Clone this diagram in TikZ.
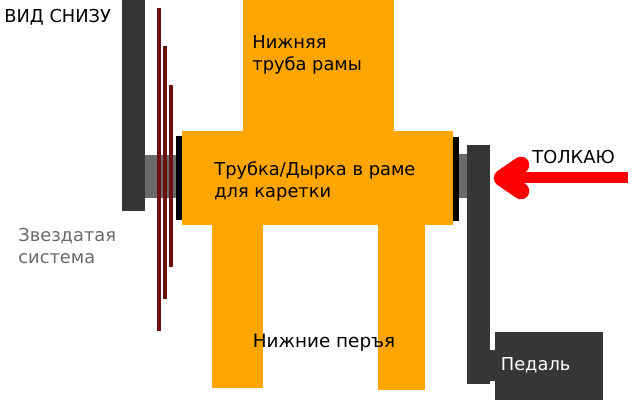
\documentclass[tikz,border=0pt]{standalone}
\usepackage{fontspec}
\setmainfont{DejaVu Sans}

\begin{document}
\begin{tikzpicture}[every node/.style={inner sep=0pt, anchor=west, font=\fontsize{10.15pt}{12.5pt}\selectfont, align=left},
    frame/.style={fill=orange1}, crank/.style={fill=dark1}, axle/.style={fill=label1}, washer/.style={fill=black}, chainring/.style={fill=red1}]
    \definecolor{orange1}{HTML}{FFA500}
    \definecolor{dark1}{HTML}{363636}
    \definecolor{red1}{HTML}{6B0F0F}
    \definecolor{label1}{HTML}{6A6A6A}

    \useasboundingbox (0,0) rectangle (12.8,8);

    % frame
    \fill[frame] (4.86,8) rectangle (7.88,5.38);
    \fill[frame] (3.64,5.38) rectangle (9.06,3.5);
    \fill[frame] (4.24,3.5) rectangle (5.26,0.24);
    \fill[frame] (7.56,3.5) rectangle (8.5,0.2);

    % axle
    \fill[axle] (2.9,4.9) rectangle (3.52,4.04);
    \fill[axle] (9.18,4.92) rectangle (9.34,4.04);
    \fill[washer] (3.52,5.28) rectangle (3.64,3.6);
    \fill[washer] (9.06,5.26) rectangle (9.18,3.58);

    % left crank and chainrings
    \fill[crank] (2.44,8) rectangle (2.9,3.78);
    \fill[chainring] (3.14,7.84) rectangle (3.22,1.38);
    \fill[chainring] (3.26,7.08) rectangle (3.34,2.02);
    \fill[chainring] (3.38,6.3) rectangle (3.46,2.66);

    % right crank and pedal
    \fill[crank] (9.34,5.1) rectangle (9.8,0.32);
    \fill[crank] (9.8,1) rectangle (9.9,0.38);
    \fill[crank] (9.9,1.36) rectangle (12.06,0);

    % push arrow
    \coordinate (tail) at (12.56,4.44);
    \coordinate (tip) at (10.04,4.44);
    \fill[red] (12.56,4.56) rectangle (10.2,4.34);
    \draw[red, line width=9.5pt, line join=round, line cap=round] (10.42,4.7) -- (tip) -- (10.42,4.18);

    \node (view) at (0.08,7.65) {ВИД СНИЗУ};
    \node (tube) at (5.04,6.9) {Нижняя\\труба рамы};
    \node (bracket) at (4.28,4.37) {Трубка/Дырка в раме\\для каретки};
    \node[text=label1] (system) at (0.36,3.08) {Звездатая\\система};
    \node[font=\fontsize{10.45pt}{12.5pt}\selectfont] (stays) at (5.05,1.15) {Нижние перъя};
    \node (push) at (10.64,4.85) {ТОЛКАЮ};
    \node[text=white] (pedal) at (10.01,0.69) {Педаль};

\end{tikzpicture}
\end{document}
